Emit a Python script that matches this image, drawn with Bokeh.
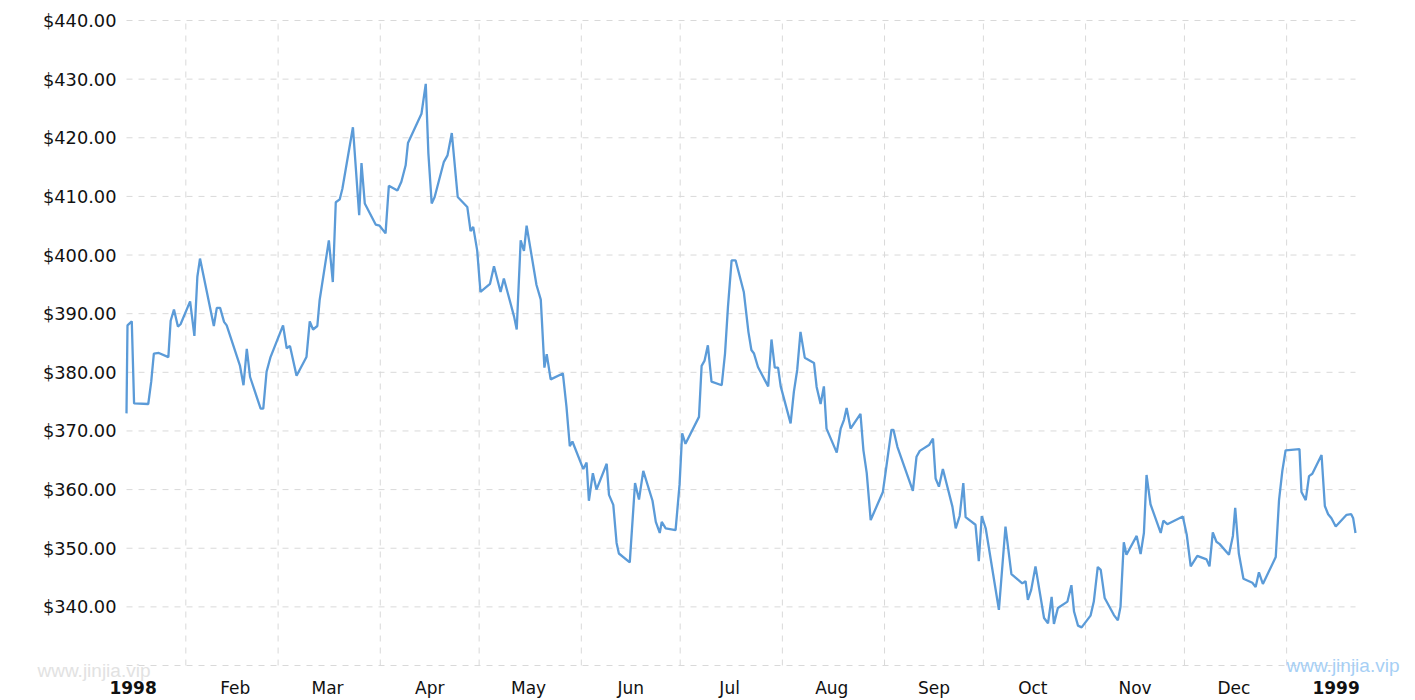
import pandas as pd
from bokeh.plotting import figure
from bokeh.models import Range1d, ColumnDataSource
from bokeh.core.properties import value
from bokeh.embed import file_html
from bokeh.resources import INLINE

# Days since 1998-01-01 and price in USD
day_offsets = [13.0, 13.3, 14.6, 15.3, 19.6, 20.5, 21.3, 22.8, 25.7, 26.4,
               27.4, 28.6, 29.4, 32.3, 33.6, 34.5, 35.3, 39.5, 40.4, 41.4,
               42.6, 43.4, 47.4, 48.5, 49.5, 50.5, 53.7, 54.5, 55.5, 56.7,
               60.5, 61.6, 62.6, 64.6, 67.6, 68.6, 69.6, 70.9, 71.6, 74.4,
               75.6, 76.5, 77.7, 78.5, 81.7, 83.6, 84.3, 85.3, 88.6, 89.8,
               91.6, 92.6, 95.2, 96.4, 97.7, 98.4, 102.5, 103.8, 104.6, 105.6,
               106.5, 109.3, 110.4, 111.7, 113.5, 116.4, 117.4, 118.2, 119.4, 120.4,
               123.3, 124.5, 126.5, 127.5, 130.6, 131.4, 132.6, 133.6, 134.4, 137.4,
               138.7, 139.8, 140.5, 141.7, 145.4, 146.5, 147.5, 148.3, 151.6, 152.6,
               153.3, 154.5, 155.6, 158.7, 159.4, 160.7, 161.7, 162.4, 165.7, 167.3,
               168.5, 169.8, 172.6, 173.6, 174.8, 175.4, 176.6, 179.6, 180.8, 181.6,
               182.6, 186.7, 187.5, 188.4, 189.4, 190.5, 193.6, 194.6, 195.5, 196.6,
               197.8, 200.3, 201.7, 202.6, 203.4, 204.6, 207.7, 208.7, 209.7, 210.7,
               211.5, 214.5, 215.5, 216.5, 217.5, 218.8, 221.6, 222.4, 223.6, 224.6,
               225.4, 228.5, 229.7, 230.7, 231.5, 232.7, 235.7, 236.6, 237.6, 238.8,
               242.5, 245.1, 245.7, 246.9, 251.6, 252.7, 253.7, 256.5, 257.7, 258.5,
               259.5, 260.7, 263.6, 264.6, 265.8, 266.9, 267.6, 270.6, 271.6, 272.5,
               273.7, 277.7, 279.7, 281.5, 284.8, 285.8, 286.5, 287.5, 288.8, 291.4,
               292.6, 293.7, 294.4, 295.6, 298.5, 299.7, 300.5, 301.7, 302.8, 305.5,
               306.5, 307.7, 308.6, 309.8, 312.6, 313.8, 314.6, 315.6, 316.4, 319.5,
               320.7, 321.7, 322.5, 323.7, 326.8, 327.6, 328.8, 333.5, 334.7, 335.9,
               337.9, 340.7, 341.6, 342.6, 343.7, 344.7, 347.5, 348.7, 349.4, 350.5,
               351.9, 354.6, 355.6, 356.6, 357.8, 361.7, 362.7, 363.7, 364.7, 368.9,
               369.5, 370.8, 371.8, 372.8, 375.6, 376.6, 377.6, 378.6, 379.9, 383.2,
               384.6, 385.2, 385.9]

prices = [373.0, 388.0, 388.7, 374.7, 374.6, 378.4, 383.2, 383.3, 382.6, 388.8,
          390.7, 387.8, 388.2, 392.1, 386.2, 396.3, 399.4, 387.9, 391.0, 391.0,
          388.6, 388.0, 381.2, 377.8, 384.0, 379.2, 373.8, 373.8, 380.1, 382.6,
          388.0, 384.1, 384.5, 379.4, 382.6, 388.7, 387.3, 387.9, 392.3, 402.5,
          395.4, 409.0, 409.5, 411.3, 421.8, 406.8, 415.7, 408.8, 405.2, 405.0,
          403.7, 411.8, 411.0, 412.5, 415.3, 419.1, 424.1, 429.2, 417.3, 408.8,
          409.9, 415.9, 417.0, 420.8, 409.9, 408.2, 404.1, 404.8, 400.8, 393.7,
          395.1, 398.1, 393.7, 396.0, 389.5, 387.3, 402.5, 400.7, 405.0, 394.9,
          392.4, 380.8, 383.1, 378.8, 379.8, 374.1, 367.4, 368.2, 363.5, 364.6,
          358.1, 362.8, 360.0, 364.4, 359.1, 357.4, 350.9, 349.1, 347.6, 361.1,
          358.3, 363.2, 358.1, 354.5, 352.6, 354.5, 353.4, 353.1, 360.8, 369.6,
          367.8, 372.4, 381.1, 382.0, 384.6, 378.4, 377.8, 383.2, 391.2, 399.1,
          399.1, 393.7, 386.9, 383.8, 383.2, 380.9, 377.6, 385.6, 380.8, 380.8,
          377.6, 371.3, 376.7, 380.4, 386.9, 382.5, 381.6, 377.5, 374.6, 377.6,
          370.4, 366.3, 370.4, 371.9, 373.9, 370.4, 372.9, 366.7, 362.8, 354.8,
          359.6, 370.2, 370.2, 367.3, 359.8, 365.6, 366.6, 367.6, 368.7, 361.9,
          360.5, 363.5, 357.1, 353.4, 355.5, 361.1, 355.3, 354.0, 347.8, 355.5,
          353.4, 339.5, 353.7, 345.6, 344.0, 344.4, 341.2, 342.9, 346.9, 338.1,
          337.2, 341.7, 337.1, 339.8, 340.9, 343.7, 339.2, 336.8, 336.5, 338.5,
          340.9, 346.8, 346.3, 341.5, 338.6, 337.7, 340.0, 351.0, 348.9, 352.1,
          349.0, 352.6, 362.5, 357.5, 352.6, 354.7, 354.1, 355.4, 352.3, 346.9,
          348.7, 348.1, 346.9, 352.7, 351.1, 350.7, 348.9, 352.1, 356.9, 349.1,
          344.8, 344.1, 343.4, 345.9, 343.9, 348.5, 358.2, 363.2, 366.7, 366.9,
          359.6, 358.2, 362.3, 362.7, 365.9, 357.2, 355.8, 355.1, 353.7, 355.7,
          355.8, 355.1, 352.6]

month_labels = ["1998", "Feb", "Mar", "Apr", "May", "Jun", "Jul", "Aug",
                "Sep", "Oct", "Nov", "Dec", "1999"]
y_ticks = [330, 340, 350, 360, 370, 380, 390, 400, 410, 420, 430, 440]
watermark = "www.jinjia.vip"

# ---- calendar positions (day offsets) ----
start = pd.Timestamp("1998-01-01")
month_starts = pd.date_range("1998-01-01", "1999-01-01", freq="MS")
grid_days_all = [(d - start).days for d in month_starts]
label_days = [g + 15 for g in grid_days_all]

# ---- layout (pixels) ----
W, H = 1415, 700
PL, PR, PT, PB = 126, 1355, 20, 665      # data area inside the canvas
FONT = value("DejaVu Sans")
TXT = "#111111"
GRID = "#d9d9d9"

x0, x1 = day_offsets[0], day_offsets[-1]
y0, y1 = y_ticks[0], y_ticks[-1]
sx = (PR - PL) / (x1 - x0)   # px per day
sy = (PB - PT) / (y1 - y0)   # px per dollar

p = figure(width=W, height=H,
           x_range=Range1d(x0 - PL / sx, x1 + (W - PR) / sx),
           y_range=Range1d(y0 - (H - PB) / sy, y1 + PT / sy),
           x_axis_type=None, y_axis_type=None,
           output_backend="svg", toolbar_location=None, min_border=0)
p.outline_line_color = None
p.background_fill_color = "white"
p.border_fill_color = "white"

# horizontal grid lines
p.segment(x0=[x0] * len(y_ticks), y0=y_ticks, x1=[x1] * len(y_ticks), y1=y_ticks,
          line_color=GRID, line_width=1, line_dash="6 6")
# vertical grid lines at month starts
vg = [g for g in grid_days_all if x0 < g <= x1]
p.segment(x0=vg, y0=[y0] * len(vg), x1=vg, y1=[y1] * len(vg),
          line_color=GRID, line_width=1, line_dash="6 6")

# the series
src = ColumnDataSource(dict(day=day_offsets, price=prices))
p.line(x="day", y="price", source=src, line_color="#5b9bd8", line_width=2.3)

# y tick labels
yl = y_ticks[1:]
p.text(x=[x0 - 10 / sx] * len(yl), y=yl, text=[f"${v:.2f}" for v in yl],
       text_font=FONT, text_font_size=value("17.8px"), text_color=TXT,
       text_align="right", text_baseline="middle")

# x tick labels (months normal, years bold)
ly = y0 - 22 / sy
mon = [(d, t) for d, t in zip(label_days, month_labels) if not t.isdigit()]
yrs = [(d, t) for d, t in zip(label_days, month_labels) if t.isdigit()]
p.text(x=[d for d, _ in mon], y=[ly] * len(mon), text=[t for _, t in mon],
       text_font=FONT, text_font_size=value("17px"), text_color=TXT,
       text_align="center", text_baseline="middle")
p.text(x=[d for d, _ in yrs], y=[ly] * len(yrs), text=[t for _, t in yrs],
       text_font=FONT, text_font_size=value("17px"), text_color=TXT,
       text_font_style="bold", text_align="center", text_baseline="middle")

# watermarks
p.text(x=[x0 - 89 / sx], y=[y0 - 5 / sy], text=[watermark],
       text_font=value("Liberation Sans"), text_font_size=value("19px"),
       text_color="#e2e2e2", text_align="left", text_baseline="alphabetic")
p.text(x=[x0 + 1160 / sx], y=[y0], text=[watermark],
       text_font=value("Liberation Sans"), text_font_size=value("19px"),
       text_color="#a6cff5", text_align="left", text_baseline="alphabetic")

open("out.html", "w").write(file_html(p, INLINE))
